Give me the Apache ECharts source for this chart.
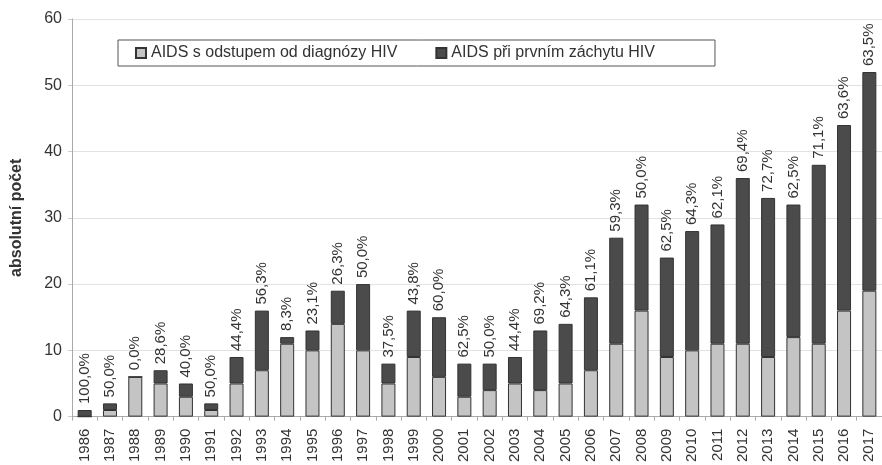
<!DOCTYPE html>
<html>
<head>
<meta charset="utf-8">
<script src="https://cdn.jsdelivr.net/npm/echarts@6/dist/echarts.min.js"></script>
<style>
  html, body { margin: 0; padding: 0; background: #fff; }
  #main { width: 882px; height: 465px; }
</style>
</head>
<body>
<div id="main"></div>
<script>
var years = ['1986', '1987', '1988', '1989', '1990', '1991', '1992', '1993', '1994', '1995',
    '1996', '1997', '1998', '1999', '2000', '2001', '2002', '2003', '2004', '2005', '2006',
    '2007', '2008', '2009', '2010', '2011', '2012', '2013', '2014', '2015', '2016', '2017'];
// AIDS s odstupem od diagnózy HIV
var delayed = [0, 1, 6, 5, 3, 1, 5, 7, 11, 10, 14, 10, 5, 9, 6, 3, 4, 5, 4, 5, 7,
    11, 16, 9, 10, 11, 11, 9, 12, 11, 16, 19];
// AIDS při prvním záchytu HIV
var firstFind = [1, 1, 0, 2, 2, 1, 4, 9, 1, 3, 5, 10, 3, 7, 9, 5, 4, 4, 9, 9, 11,
    16, 16, 15, 18, 18, 25, 24, 20, 27, 28, 33];
var shareLabels = ['100,0%', '50,0%', '0,0%', '28,6%', '40,0%', '50,0%', '44,4%', '56,3%', '8,3%',
    '23,1%', '26,3%', '50,0%', '37,5%', '43,8%', '60,0%', '62,5%', '50,0%', '44,4%', '69,2%',
    '64,3%', '61,1%', '59,3%', '50,0%', '62,5%', '64,3%', '62,1%', '69,4%', '72,7%', '62,5%',
    '71,1%', '63,6%', '63,5%'];

var font = 'Liberation Sans, Arial, sans-serif';
var myChart = echarts.init(document.getElementById('main'));
var option = {
    animation: false,
    textStyle: { fontFamily: font },
    grid: { left: 72, right: 0, top: 19, bottom: 48, containLabel: false },
    legend: {
        left: 118,
        top: 40,
        orient: 'horizontal',
        icon: 'rect',
        itemWidth: 10,
        itemHeight: 10,
        itemGap: 38,
        padding: [5, 60, 5, 17],
        borderColor: '#555',
        borderWidth: 1,
        textStyle: { fontSize: 16, color: '#333', fontFamily: font },
        data: ['AIDS s odstupem od diagnózy HIV', 'AIDS při prvním záchytu HIV']
    },
    xAxis: {
        type: 'category',
        data: years,
        axisLine: { lineStyle: { color: '#aaa' } },
        axisTick: { show: true, length: 4, lineStyle: { color: '#aaa' } },
        axisLabel: { rotate: 90, fontSize: 15, color: '#333', margin: 12, fontFamily: font }
    },
    yAxis: {
        type: 'value',
        min: 0,
        max: 60,
        interval: 10,
        name: 'absolutní počet',
        nameLocation: 'middle',
        nameGap: 47,
        nameTextStyle: { fontSize: 16, fontWeight: 'bold', color: '#333', fontFamily: font },
        axisLine: { show: true, lineStyle: { color: '#aaa' } },
        axisTick: { show: true, length: 4, lineStyle: { color: '#ccc' } },
        axisLabel: { fontSize: 16, color: '#333', margin: 10, fontFamily: font },
        splitLine: { lineStyle: { color: '#e2e2e2' } }
    },
    series: [
        {
            name: 'AIDS s odstupem od diagnózy HIV',
            type: 'bar',
            stack: 'total',
            barWidth: 14,
            data: delayed,
            itemStyle: { color: '#c4c4c4', borderColor: '#333', borderWidth: 1 }
        },
        {
            name: 'AIDS při prvním záchytu HIV',
            type: 'bar',
            stack: 'total',
            barWidth: 14,
            data: firstFind,
            itemStyle: { color: '#4b4b4b', borderColor: '#333', borderWidth: 1 },
            label: {
                show: true,
                position: 'top',
                rotate: 90,
                align: 'left',
                verticalAlign: 'middle',
                distance: 6,
                fontSize: 15,
                color: '#333',
                fontFamily: font,
                formatter: function (p) { return shareLabels[p.dataIndex]; }
            }
        }
    ]
};
myChart.setOption(option);
</script>
</body>
</html>
